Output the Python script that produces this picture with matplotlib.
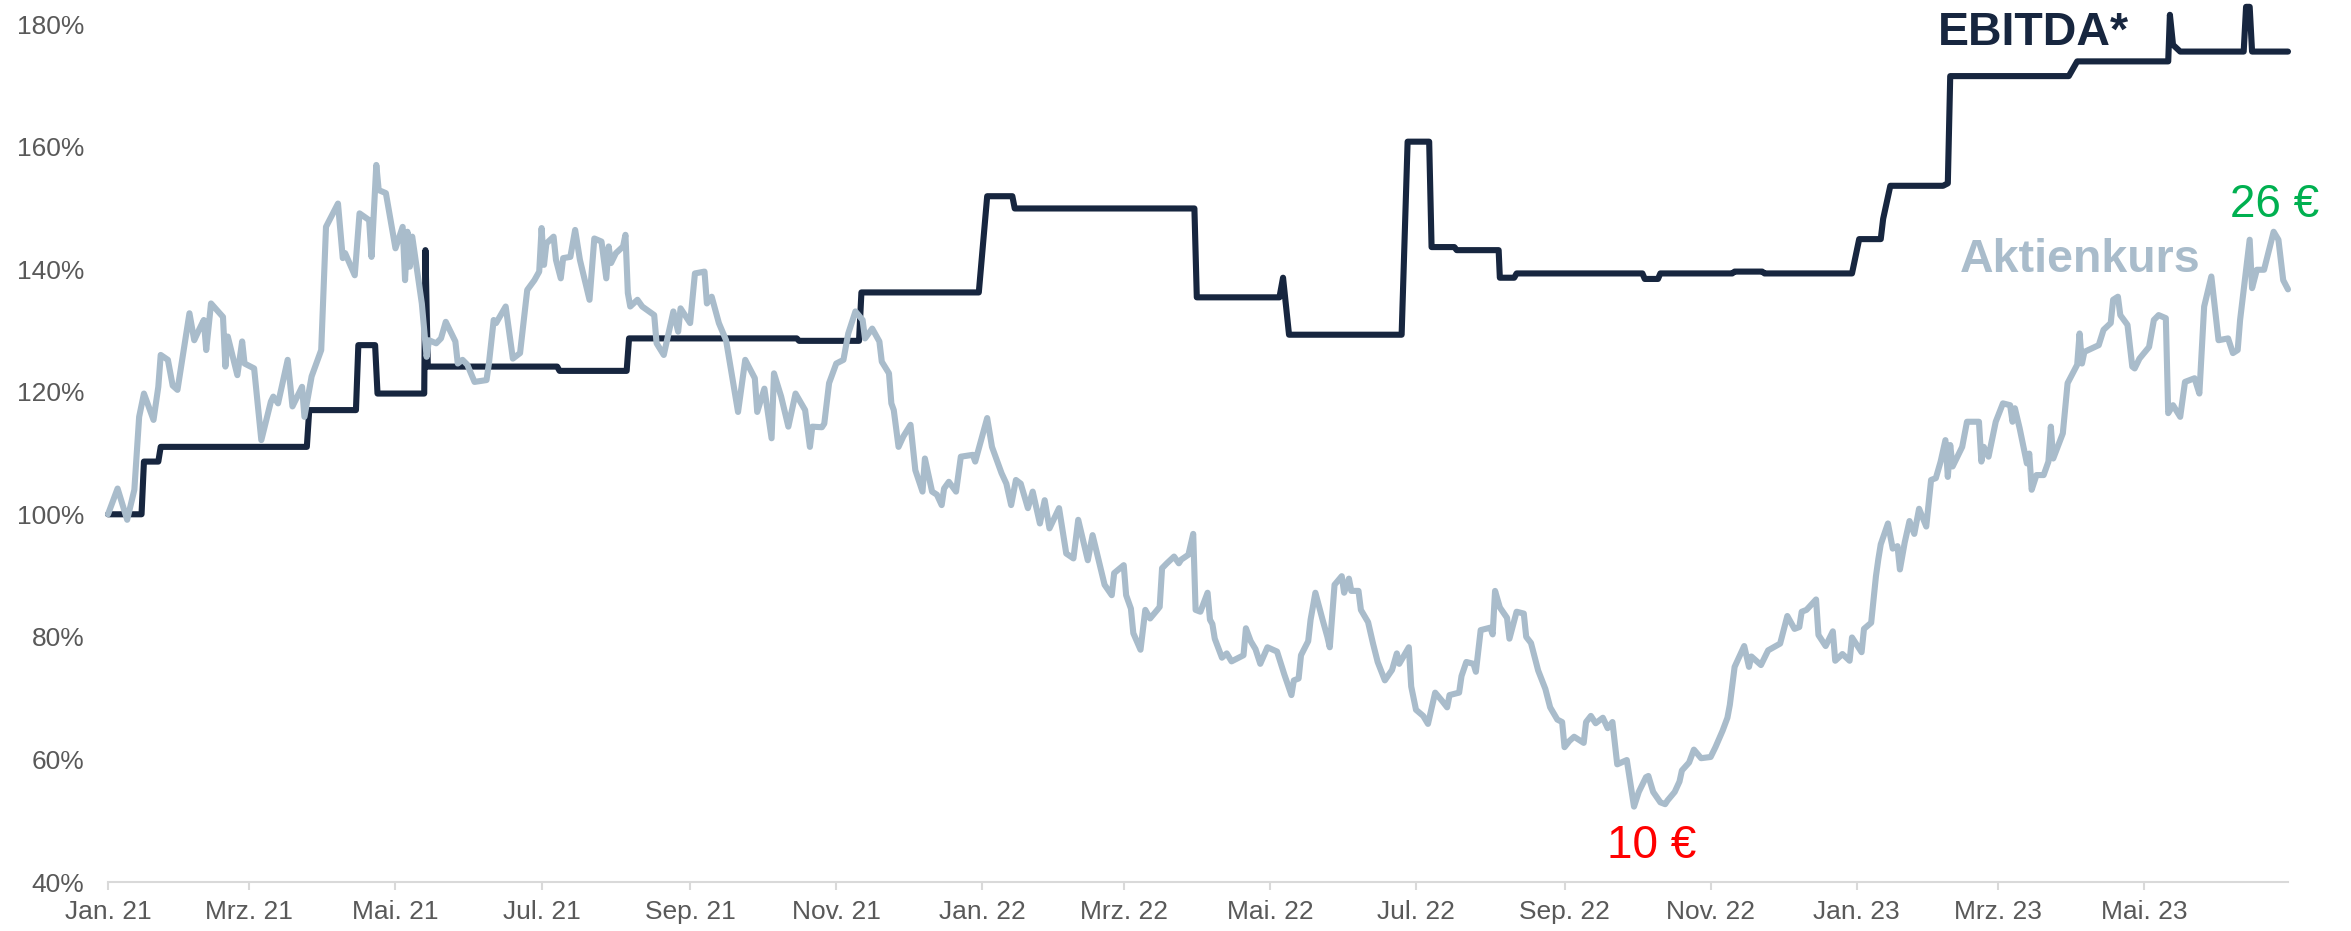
import pandas as pd
import matplotlib
matplotlib.use("Agg")
import matplotlib.pyplot as plt

plt.rcParams['font.family'] = ['Liberation Sans', 'DejaVu Sans']

# EBITDA (indexiert, Jan. 21 = 100%), Tage ab 01.01.2021
ebitda_tag = [0, 14, 15, 21, 22, 83, 84, 103.5, 104.5, 111.5, 112.5, 132, 132.5, 133.5,
              187.5, 188.5, 216.5, 217.5, 287.5, 288.5, 313.5, 314.5, 363.5, 367, 377.5,
              378.5, 453.5, 454.5, 489, 490.5, 493, 540, 542.5, 551.5, 552.5, 562, 563,
              580.5, 581, 587, 588, 640.5, 641.5, 647, 648, 678, 679, 690.5, 691.5, 728,
              731, 740, 741, 744, 766, 768, 769, 818.5, 822, 860, 860.7, 862, 865, 891.5,
              892.5, 894, 895, 910]
ebitda_wert = [100, 100, 108.6, 108.6, 111.0, 111.0, 117.0, 117.0, 127.6, 127.6, 119.7, 119.7,
               143.1, 124.1, 124.1, 123.4, 123.4, 128.7, 128.7, 128.3, 128.3, 136.2, 136.2,
               151.9, 151.9, 149.9, 149.9, 135.4, 135.4, 138.6, 129.3, 129.3, 160.8, 160.8,
               143.6, 143.6, 143.1, 143.1, 138.6, 138.6, 139.3, 139.3, 138.4, 138.4, 139.3,
               139.3, 139.6, 139.6, 139.3, 139.3, 144.9, 144.9, 148.2, 153.6, 153.6, 154.0,
               171.5, 171.5, 173.9, 173.9, 181.5, 176.6, 175.5, 175.5, 182.8, 182.8, 175.5,
               175.5]

# Aktienkurs (indexiert)
kurs_tag = [0, 4, 8, 11, 13, 15, 19, 21, 22, 25, 27, 29, 34, 36, 38, 40, 41, 43, 48, 49, 50,
            54, 56, 57, 61, 64, 68, 69, 71, 75, 77, 81, 82, 85, 89, 91, 96, 98, 99, 103, 105,
            109, 110, 112, 113, 116, 120, 123, 124, 125, 126, 127, 131, 133, 134, 137, 139,
            141, 145, 146, 148, 150, 153, 158, 159, 161, 162, 166, 169, 172, 175, 178, 180,
            181, 182, 183, 186, 187, 189, 190, 193, 195, 197, 201, 203, 206, 208, 209, 210,
            212, 215, 216, 217, 218, 221, 223, 228, 229, 232, 236, 238, 239, 243, 245, 249,
            250, 252, 255, 258, 263, 266, 270, 271, 274, 277, 278, 281, 284, 287, 291, 293,
            294, 298, 299, 301, 304, 307, 309, 312, 315, 316, 319, 322, 323, 326, 327, 328,
            330, 332, 335, 337, 340, 341, 344, 346, 348, 349, 351, 354, 356, 361, 362, 367,
            369, 373, 375, 377, 379, 381, 384, 386, 389, 391, 393, 397, 400, 403, 405, 409,
            411, 416, 419, 420, 424, 425, 427, 428, 431, 433, 435, 438, 439, 440, 442, 445,
            447, 448, 451, 453, 454, 456, 459, 460, 461, 462, 465, 467, 469, 474, 475, 477,
            479, 481, 484, 488, 491, 494, 495, 497, 498, 501, 502, 504, 507, 509, 510, 512,
            515, 516, 518, 519, 522, 523, 526, 528, 530, 533, 536, 538, 539, 543, 544, 546,
            549, 551, 554, 557, 559, 560, 564, 565, 567, 570, 571, 573, 577, 578, 579, 581,
            584, 585, 588, 591, 592, 594, 597, 600, 602, 605, 607, 608, 610, 612, 616, 617,
            619, 621, 623, 624, 626, 628, 630, 634, 637, 639, 642, 643, 645, 648, 650, 651,
            654, 656, 657, 660, 662, 665, 669, 671, 674, 676, 677, 679, 683, 685, 686, 690,
            693, 698, 701, 704, 706, 707, 709, 713, 714, 717, 720, 721, 724, 727, 728, 732,
            733, 736, 738, 739, 740, 743, 745, 747, 748, 750, 752, 754, 756, 759, 761, 763,
            765, 767, 768, 769, 770, 774, 776, 781, 782, 783, 785, 788, 791, 794, 795, 796,
            798, 801, 802, 803, 805, 808, 810, 811, 812, 816, 818, 822, 823, 824, 825, 831,
            833, 836, 837, 839, 840, 843, 845, 846, 848, 852, 854, 856, 859, 860, 862, 865,
            867, 871, 873, 875, 878, 881, 885, 887, 889, 890, 894, 895, 897, 900, 904, 906,
            908, 910]
kurs_wert = [100.0, 104.2, 99.1, 104.0, 115.9, 119.7, 115.4, 120.8, 126.0, 125.2, 121.0, 120.3,
             132.8, 128.4, 130.1, 131.7, 126.8, 134.4, 132.2, 124.1, 129.0, 122.7, 128.2,
             124.6, 123.8, 112.1, 118.4, 119.2, 118.1, 125.2, 117.6, 120.8, 115.9, 122.5,
             126.8, 146.9, 150.7, 141.8, 142.6, 139.0, 149.1, 148.0, 142.0, 157.0, 152.9,
             152.4, 143.4, 146.9, 138.2, 146.1, 140.4, 145.3, 134.4, 125.7, 128.4, 127.9,
             128.7, 131.4, 128.2, 124.6, 125.2, 124.4, 121.6, 121.9, 124.6, 131.7, 131.2,
             133.9, 125.4, 126.3, 136.6, 138.2, 139.6, 146.7, 140.7, 144.2, 145.3, 141.5,
             138.5, 141.8, 142.0, 146.4, 141.5, 135.0, 145.0, 144.5, 138.5, 143.7, 141.0,
             142.6, 143.7, 145.6, 136.1, 133.9, 135.0, 133.9, 132.5, 127.9, 126.0, 133.1,
             129.8, 133.6, 131.2, 139.3, 139.6, 134.4, 135.5, 131.2, 128.4, 116.7, 125.2,
             122.2, 116.7, 120.5, 112.4, 123.0, 119.2, 114.3, 119.7, 117.0, 111.0, 114.3,
             114.2, 114.8, 121.4, 124.6, 125.2, 129.5, 133.1, 131.7, 128.7, 130.3, 128.2,
             124.9, 123.0, 118.1, 117.0, 111.0, 112.7, 114.6, 107.2, 103.7, 109.1, 103.7,
             103.2, 101.5, 104.2, 105.3, 103.7, 109.4, 109.7, 108.6, 115.7, 111.0, 106.7,
             105.0, 101.5, 105.6, 105.0, 101.0, 103.7, 98.5, 102.3, 97.7, 101.0, 93.6, 92.8,
             99.1, 92.5, 96.6, 88.5, 86.8, 90.4, 91.7, 86.8, 84.6, 80.6, 77.9, 84.4, 83.0,
             84.4, 84.9, 91.2, 92.0, 93.1, 92.0, 92.6, 93.4, 96.8, 84.4, 84.1, 87.2, 82.8,
             82.1, 79.7, 76.6, 77.3, 76.0, 77.0, 81.4, 79.3, 78.0, 75.6, 78.3, 77.6, 73.9,
             70.5, 72.9, 73.2, 77.0, 79.3, 82.8, 87.2, 82.8, 80.0, 78.3, 88.5, 89.9, 87.2,
             89.5, 87.5, 87.5, 84.4, 82.4, 79.0, 75.9, 72.9, 74.6, 77.3, 75.6, 78.3, 71.9,
             68.1, 67.1, 65.8, 70.9, 69.5, 68.5, 70.5, 70.9, 73.6, 75.9, 75.6, 74.3, 81.1,
             81.5, 80.4, 87.5, 84.8, 83.1, 79.7, 84.1, 83.8, 80.0, 79.0, 74.5, 71.5, 68.5,
             66.5, 66.1, 62.0, 63.0, 63.7, 62.7, 66.1, 67.1, 65.9, 66.5, 66.8, 65.1, 66.1,
             59.2, 59.9, 52.3, 54.7, 57.1, 57.3, 54.7, 53.0, 52.7, 53.3, 54.7, 56.4, 58.2,
             59.5, 61.6, 60.2, 60.4, 62.0, 64.7, 66.8, 68.9, 75.1, 78.5, 75.1, 76.8, 75.4,
             77.8, 78.9, 83.4, 81.3, 81.6, 84.1, 84.4, 86.1, 80.3, 78.5, 80.9, 76.1, 77.2,
             76.1, 79.9, 77.5, 81.3, 82.3, 89.9, 92.7, 95.1, 98.5, 94.4, 94.8, 91.0, 95.4,
             98.9, 96.8, 100.9, 98.0, 105.6, 105.9, 108.6, 112.1, 106.1, 111.3, 107.8,
             111.0, 115.1, 115.1, 108.6, 111.0, 109.4, 115.1, 118.1, 117.8, 115.1, 117.3,
             114.0, 108.3, 109.9, 104.0, 106.4, 106.4, 108.6, 114.3, 109.1, 113.2, 121.4,
             124.4, 129.5, 124.6, 126.5, 127.6, 130.1, 131.2, 135.0, 135.5, 132.5, 130.9,
             124.1, 123.8, 125.4, 127.3, 131.7, 132.5, 132.0, 116.5, 117.8, 115.9, 121.6,
             122.2, 119.7, 133.9, 138.8, 128.4, 128.7, 126.3, 126.8, 131.7, 144.8, 136.9,
             139.9, 139.9, 146.1, 144.8, 138.2, 136.7]

y_ticks = [40, 60, 80, 100, 120, 140, 160, 180]
monate = {1: 'Jan.', 3: 'Mrz.', 5: 'Mai.', 7: 'Jul.', 9: 'Sep.', 11: 'Nov.'}

start = pd.Timestamp('2021-01-01')
ebitda_x = start + pd.to_timedelta(ebitda_tag, unit='D')
kurs_x = start + pd.to_timedelta(kurs_tag, unit='D')
x_ticks = pd.date_range('2021-01-01', '2023-05-01', freq='2MS')
x_labels = ['{} {}'.format(monate[d.month], str(d.year)[2:]) for d in x_ticks]

navy = '#17263f'
grau_blau = '#a9bccb'

fig = plt.figure(figsize=(23.51, 9.31), dpi=100)
ax = fig.add_axes([108 / 2351, 49 / 931, 2180 / 2351, 858 / 931])

ax.plot(ebitda_x, ebitda_wert, color=navy, lw=4.4, clip_on=False,
        solid_joinstyle='round', solid_capstyle='round', zorder=2)
ax.plot(kurs_x, kurs_wert, color=grau_blau, lw=4.4, clip_on=False,
        solid_joinstyle='round', solid_capstyle='round', zorder=3)

ax.set_xlim(start, start + pd.Timedelta(days=910))
ax.set_ylim(40, 180)
ax.set_yticks(y_ticks)
ax.set_yticklabels(['{}%'.format(v) for v in y_ticks])
ax.set_xticks(x_ticks)
ax.set_xticklabels(x_labels)

for s in ['top', 'right', 'left']:
    ax.spines[s].set_visible(False)
ax.spines['bottom'].set_color('#d9d9d9')
ax.spines['bottom'].set_linewidth(1.5)
ax.tick_params(axis='y', length=0, pad=17, labelsize=19, labelcolor='#595959')
ax.tick_params(axis='x', length=6, width=1.5, color='#d9d9d9', pad=7,
               labelsize=19, labelcolor='#595959')

ax.text(start + pd.Timedelta(days=763.8), 176.6, 'EBITDA*', color=navy,
        fontsize=33.5, fontweight='bold', va='baseline', ha='left')
ax.text(start + pd.Timedelta(days=773), 139.5, 'Aktienkurs', color=grau_blau,
        fontsize=33.5, fontweight='bold', va='baseline', ha='left')
ax.text(start + pd.Timedelta(days=885.6), 148.5, '26 €', color='#00b050',
        fontsize=33, va='baseline', ha='left', clip_on=False)
ax.text(start + pd.Timedelta(days=625.6), 43.9, '10 €', color='#ff0000',
        fontsize=33, va='baseline', ha='left')

fig.savefig('out.png', dpi=100)
